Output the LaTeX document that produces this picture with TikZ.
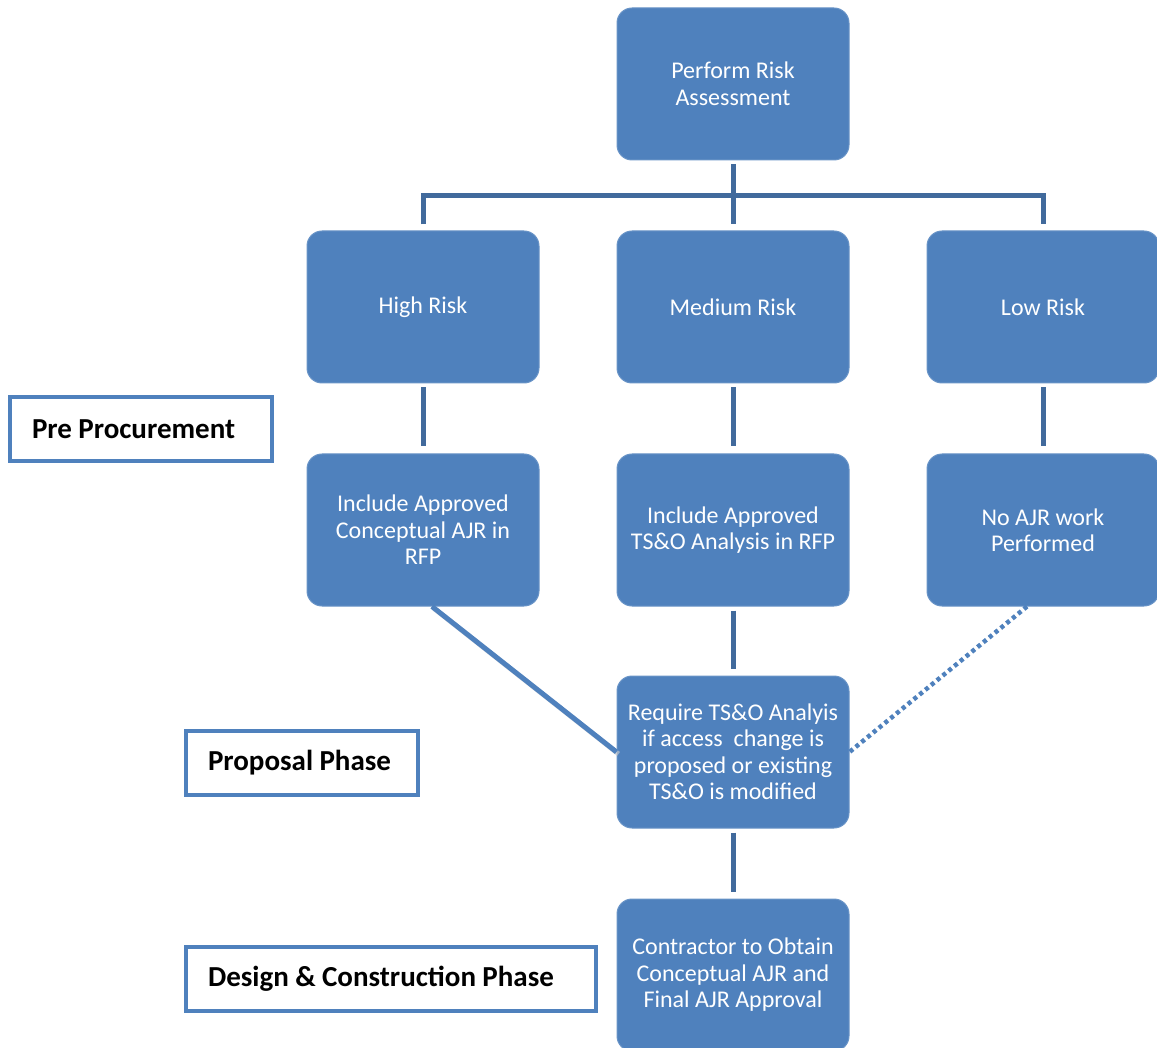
\documentclass[tikz,border=0pt]{standalone}
\usepackage{fontspec}
\setmainfont{Carlito}
\definecolor{boxblue}{RGB}{79,129,189}
\definecolor{linkblue}{RGB}{65,106,156}
\newcommand\phasefont{\fontsize{29}{32}\selectfont\bfseries}
\newcommand\tightspace{\spaceskip=6.4pt plus 2pt minus 1pt\relax}
\tikzset{
  riskbox/.style={rectangle, rounded corners=15pt, fill=boxblue, draw=boxblue!85!white, line width=1pt,
    minimum width=232pt, minimum height=152pt, inner sep=0pt, align=center, text=white,
    font=\fontsize{24}{26.5}\selectfont},
  phasebox/.style={rectangle, draw=boxblue, line width=4pt, fill=white, inner xsep=22pt, inner ysep=0pt,
    minimum height=64pt, align=left, font=\phasefont, execute at begin node=\tightspace},
  link/.style={linkblue, line width=5pt},
}
\begin{document}
\begin{tikzpicture}[x=1pt, y=-1pt]
  \useasboundingbox (0,0) rectangle (1157,1048);
  % Nodes for the risk levels and outcomes (blue boxes)
  \node[riskbox] (assess) at (733, 84) {Perform Risk\\Assessment};
  \node[riskbox] (high) at (423, 307) {High Risk};
  \node[riskbox] (medium) at (733, 307) {Medium Risk};
  \node[riskbox] (low) at (1043, 307) {Low Risk};
  \node[riskbox] (inchigh) at (423, 530) {Include Approved\\Conceptual AJR in\\RFP};
  \node[riskbox] (incmed) at (733, 530) {Include Approved\\TS\&O Analysis in RFP};
  \node[riskbox] (noajr) at (1043, 530) {No AJR work\\Performed};
  \node[riskbox] (require) at (733, 752) {Require TS\&O Analyis\\if access~ change is\\proposed or existing\\TS\&O is modified};
  \node[riskbox] (contract) at (733, 975) {Contractor to Obtain\\Conceptual AJR and\\Final AJR Approval};

  % Nodes for the phases (outlined boxes)
  \node[phasebox, text width=218pt] (pre) at (141, 429) {Pre Procurement};
  \node[phasebox, text width=188pt] (proposal) at (302, 763) {Proposal Phase};
  \node[phasebox, text width=366pt] (design) at (391, 979) {Design \& Construction Phase};

  % Tree from the assessment
  \coordinate (split) at (733, 195.5);
  \draw[link] ([yshift=-4pt]assess.south) -- (split);
  \draw[link] ([yshift=6pt]high.north) |- (split) -| ([yshift=6pt]low.north);
  \draw[link] (split) -- ([yshift=6pt]medium.north);

  % Edges between the boxes
  \draw[link] ([yshift=-4pt]high.south) -- ([yshift=7pt]inchigh.north);
  \draw[link] ([yshift=-4pt]medium.south) -- ([yshift=7pt]incmed.north);
  \draw[link] ([yshift=-4pt]low.south) -- ([yshift=7pt]noajr.north);
  \draw[link] ([yshift=-4pt]incmed.south) -- ([yshift=7pt]require.north);
  \draw[link] ([yshift=-4pt]require.south) -- ([yshift=7pt]contract.north);
  \draw[black!20, line width=5pt, opacity=0.6] ([xshift=11pt, yshift=-2pt]inchigh.south) -- ([xshift=2pt, yshift=-2pt]require.west);
  \draw[boxblue, line width=5pt] ([xshift=9pt]inchigh.south) -- (require.west);
  \draw[boxblue, line width=4.5pt, dash pattern=on 4pt off 3.5pt] ([xshift=-16pt]noajr.south) -- (require.east);
\end{tikzpicture}
\end{document}
